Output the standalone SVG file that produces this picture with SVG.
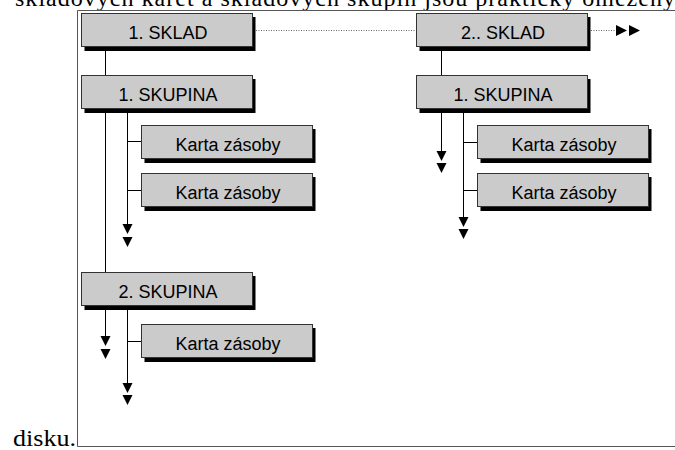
<svg xmlns="http://www.w3.org/2000/svg" xmlns:xlink="http://www.w3.org/1999/xlink" width="675" height="450" viewBox="0 0 675 450">
<style>
.box{fill:#cbcbcb;stroke:#333;stroke-width:1}
.sh{fill:#000}
.lbl{font-family:"Liberation Sans",Arimo,Arial,Helvetica,sans-serif;font-size:18px;fill:#000;text-anchor:middle}
.ln{stroke:#000;stroke-width:1;fill:none}
.dot{stroke:#666;stroke-width:1;stroke-dasharray:1 1.5;fill:none}
.frame{stroke:#555;stroke-width:1;fill:none}
.body{font-family:"Liberation Serif",Tinos,"Times New Roman","DejaVu Serif",serif;font-size:24px;fill:#000}
</style>
<defs>
<path id="tri" d="M-5,0 L5,0 L0,10 Z" fill="#000"/>
<path id="tri2" d="M0,-5.5 L11,0 L0,5.5 Z" fill="#000"/>
</defs>
<text class="body" x="15" y="6" textLength="660" lengthAdjust="spacing">skladových karet a skladových skupin jsou prakticky omezeny</text>
<text class="body" x="13" y="446" textLength="63" lengthAdjust="spacingAndGlyphs">disku.</text>
<path class="frame" d="M77.5,10.5 H675 M77.5,10.5 V446.5 H675"/>
<g id="connectors">
<path class="ln" d="M105.5,47 V272 M441.5,47 V75 M127.5,109 V224 M127.5,141.5 H141 M127.5,190.5 H141 M441.5,109 V151 M463.5,109 V217 M463.5,142.5 H477 M463.5,190.5 H477 M105.5,306 V336 M127.5,306 V383 M127.5,341.5 H141"/>
<path class="dot" d="M256,30.5 H416 M591,30.5 H615"/>
<use xlink:href="#tri" x="127.5" y="224"/>
<use xlink:href="#tri" x="127.5" y="237"/>
<use xlink:href="#tri" x="441.5" y="151"/>
<use xlink:href="#tri" x="441.5" y="163"/>
<use xlink:href="#tri" x="463.5" y="217"/>
<use xlink:href="#tri" x="463.5" y="229"/>
<use xlink:href="#tri" x="105.5" y="336"/>
<use xlink:href="#tri" x="105.5" y="349"/>
<use xlink:href="#tri" x="127.5" y="383"/>
<use xlink:href="#tri" x="127.5" y="395"/>
<use xlink:href="#tri2" x="616" y="30.5"/>
<use xlink:href="#tri2" x="629" y="30.5"/>
</g>
<g id="sklad1"><rect class="sh" x="84.5" y="17" width="171" height="34"/><rect class="box" x="81.5" y="13.5" width="171" height="33"/><text class="lbl" x="168" y="38.5">1. SKLAD</text></g>
<g id="sklad2"><rect class="sh" x="419.5" y="17" width="171" height="34"/><rect class="box" x="416.5" y="13.5" width="171" height="33"/><text class="lbl" x="503" y="38.5">2.. SKLAD</text></g>
<g id="skupina1L"><rect class="sh" x="84.5" y="79" width="171" height="34"/><rect class="box" x="81.5" y="75.5" width="171" height="33"/><text class="lbl" x="168" y="100.5">1. SKUPINA</text></g>
<g id="skupina1R"><rect class="sh" x="419.5" y="79" width="171" height="34"/><rect class="box" x="416.5" y="75.5" width="171" height="33"/><text class="lbl" x="503" y="100.5">1. SKUPINA</text></g>
<g id="skupina2L"><rect class="sh" x="84.5" y="276" width="171" height="34"/><rect class="box" x="81.5" y="272.5" width="171" height="33"/><text class="lbl" x="168" y="297.5">2. SKUPINA</text></g>
<g id="kartaL1"><rect class="sh" x="144.5" y="129" width="171" height="34"/><rect class="box" x="141.5" y="125.5" width="171" height="33"/><text class="lbl" x="228" y="150.5">Karta zásoby</text></g>
<g id="kartaL2"><rect class="sh" x="144.5" y="177" width="171" height="34"/><rect class="box" x="141.5" y="173.5" width="171" height="33"/><text class="lbl" x="228" y="198.5">Karta zásoby</text></g>
<g id="kartaR1"><rect class="sh" x="480.5" y="129" width="171" height="34"/><rect class="box" x="477.5" y="125.5" width="171" height="33"/><text class="lbl" x="564" y="150.5">Karta zásoby</text></g>
<g id="kartaR2"><rect class="sh" x="480.5" y="177" width="171" height="34"/><rect class="box" x="477.5" y="173.5" width="171" height="33"/><text class="lbl" x="564" y="198.5">Karta zásoby</text></g>
<g id="kartaL3"><rect class="sh" x="144.5" y="328" width="171" height="34"/><rect class="box" x="141.5" y="324.5" width="171" height="33"/><text class="lbl" x="228" y="349.5">Karta zásoby</text></g>
</svg>
